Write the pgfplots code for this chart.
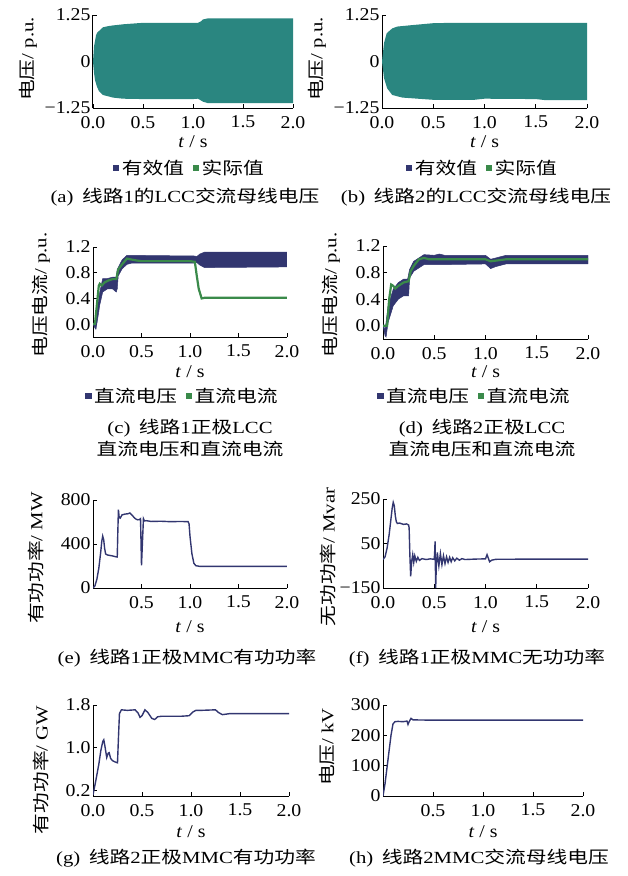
\documentclass[border=0pt]{standalone}
\usepackage{fontspec}
\setmainfont{Liberation Serif}[FakeStretch=1.22]
\newfontfamily\cjk{Noto Sans CJK SC}[FakeStretch=1.22]
\newfontfamily\tickfont{Liberation Serif}[FakeStretch=1.1]
\usepackage{pgfplots}
\pgfplotsset{compat=1.18}
\definecolor{navyc}{RGB}{50,54,112}
\definecolor{greenc}{RGB}{58,138,74}
\definecolor{tealc}{RGB}{42,134,128}
\newcommand\zh[1]{{\cjk #1}}
\newcommand\ft{\tickfont\fontsize{18}{21}\selectfont}
\newcommand\fc{\fontsize{17}{20}\selectfont}
\pgfplotsset{
  panel/.style={scale only axis, axis lines*=left,
    axis line style={line width=1pt, black},
    every tick/.style={black, line width=0.8pt},
    tick align=inside, major tick length=4pt,
    xmin=0, xmax=2, xtick={0,0.5,1,1.5,2}, xticklabels={0.0,0.5,1.0,1.5,2.0},
    tick label style={font=\ft},
    xticklabel style={yshift=-4.5pt},
    yticklabel style={xshift=1pt},
    /pgf/number format/assume math mode=true,
    xlabel={\textit{t} / s}, xlabel style={font=\ft, anchor=center},
    ylabel style={font=\fc, anchor=center},
    legend style={draw=none, fill=none, font=\fc, legend columns=2, anchor=center,
      nodes={inner xsep=3pt},
      /tikz/every even column/.append style={column sep=6pt}},
    legend image code/.code={\fill[##1] (1pt,-2.6pt) rectangle (6.2pt,2.6pt);},
  },
  line/.style={navyc, line width=1.4pt, forget plot},
}
\begin{document}
\begin{tikzpicture}
\path[use as bounding box] (0pt,0pt) rectangle (627pt,-876pt);

% (a)
\begin{axis}[panel, at={(93pt,-108pt)}, anchor=south west, width=200pt, height=93pt,
  ymin=-1.25, ymax=1.25, ytick={-1.25,0,1.25}, yticklabels={−1.25,0,1.25},
  ylabel={\zh{电压}/ p.u.}, ylabel style={at={(axis description cs:-0.325,0.527)}},
  xlabel style={at={(axis description cs:0.5,-0.366)}},
  legend style={at={(axis description cs:0.485,-0.645)}}]
\addlegendimage{navyc}\addlegendentry{\zh{有效值}}
\addlegendimage{greenc}\addlegendentry{\zh{实际值}}
\addplot[fill=tealc, draw=none, forget plot] coordinates {(0,0) (0.01,0.4) (0.03,0.7) (0.04,0.77) (0.06,0.82) (0.1,0.92) (0.15,0.95) (0.2,0.97) (0.3,1.0) (0.4,1.02) (0.5,1.04) (1.0,1.04) (1.05,1.04) (1.08,1.08) (1.1,1.13) (1.15,1.16) (1.5,1.16) (2.0,1.16)
 (2.0,-1.12) (1.5,-1.12) (1.15,-1.12) (1.1,-1.08) (1.05,-1.0) (1.0,-1.01) (0.5,-1.01) (0.3,-1.0) (0.2,-0.97) (0.1,-0.9) (0.06,-0.8) (0.04,-0.68) (0.02,-0.5) (0.01,-0.3) (0,0)};
\end{axis}

% (b)
\begin{axis}[panel, at={(382pt,-108pt)}, anchor=south west, width=205pt, height=93pt,
  ymin=-1.25, ymax=1.25, ytick={-1.25,0,1.25}, yticklabels={−1.25,0,1.25},
  ylabel={\zh{电压}/ p.u.}, ylabel style={at={(axis description cs:-0.317,0.527)}},
  xlabel style={at={(axis description cs:0.5,-0.366)}},
  legend style={at={(axis description cs:0.493,-0.645)}}]
\addlegendimage{navyc}\addlegendentry{\zh{有效值}}
\addlegendimage{greenc}\addlegendentry{\zh{实际值}}
\addplot[fill=tealc, draw=none, forget plot] coordinates {(0,0) (0.02,0.5) (0.046,0.76) (0.1,0.89) (0.15,0.94) (0.3,0.98) (0.5,1.03) (0.7,1.04) (2.0,1.04)
 (2.0,-1.04) (1.6,-1.04) (1.5,-1.01) (1.0,-1.0) (0.9,-1.03) (0.5,-1.03) (0.3,-0.99) (0.2,-0.97) (0.1,-0.9) (0.05,-0.72) (0.02,-0.45) (0,0)};
\end{axis}

% (c)
\begin{axis}[panel, at={(93pt,-337pt)}, anchor=south west, width=194pt, height=90pt,
  ymin=-0.2, ymax=1.2, ytick={0,0.4,0.8,1.2}, yticklabels={0.0,0.4,0.8,1.2},
  ylabel={\zh{电压电流}/ p.u.}, ylabel style={at={(axis description cs:-0.268,0.467)}},
  xlabel style={at={(axis description cs:0.5,-0.383)}},
  legend style={at={(axis description cs:0.464,-0.656)}}]
\addlegendimage{navyc}\addlegendentry{\zh{直流电压}}
\addlegendimage{greenc}\addlegendentry{\zh{直流电流}}
\addplot[fill=navyc, draw=navyc, line width=0.5pt, forget plot] coordinates {(0,0.02) (0.02,0.0) (0.03,0.05) (0.05,0.3) (0.07,0.5) (0.1,0.71) (0.15,0.71) (0.2,0.73) (0.24,0.73) (0.25,0.85) (0.3,1.0) (0.35,1.07) (0.4,1.07) (1.05,1.06) (1.07,1.05) (1.1,1.09) (1.15,1.12) (2.0,1.12)
 (2.0,0.89) (1.15,0.88) (1.1,0.92) (1.07,0.96) (1.05,0.95) (0.4,0.95) (0.35,0.93) (0.3,0.86) (0.26,0.75) (0.25,0.55) (0.24,0.5) (0.2,0.55) (0.15,0.55) (0.1,0.5) (0.07,0.3) (0.05,0.1) (0.03,-0.08) (0.02,-0.06) (0,0.0)};
\addplot[greenc, line width=2.2pt, forget plot] coordinates {(0,0) (0.02,0.0) (0.04,0.3) (0.06,0.6) (0.07,0.63) (0.09,0.6) (0.12,0.65) (0.16,0.68) (0.2,0.7) (0.24,0.7) (0.26,0.85) (0.3,0.93) (0.35,1.02) (0.38,1.01) (0.45,0.99) (0.5,0.98) (1.0,0.98) (1.05,0.97) (1.07,0.75) (1.09,0.55) (1.12,0.4) (1.15,0.41) (2.0,0.41)};
\end{axis}

% (d)
\begin{axis}[panel, at={(383pt,-339pt)}, anchor=south west, width=205pt, height=93pt,
  ymin=-0.2, ymax=1.2, ytick={0,0.4,0.8,1.2}, yticklabels={0.0,0.4,0.8,1.2},
  ylabel={\zh{电压电流}/ p.u.}, ylabel style={at={(axis description cs:-0.254,0.473)}},
  xlabel style={at={(axis description cs:0.5,-0.349)}},
  legend style={at={(axis description cs:0.449,-0.613)}}]
\addlegendimage{navyc}\addlegendentry{\zh{直流电压}}
\addlegendimage{greenc}\addlegendentry{\zh{直流电流}}
\addplot[fill=navyc, draw=navyc, line width=0.5pt, forget plot] coordinates {(0,0) (0.02,-0.05) (0.03,0.05) (0.05,0.3) (0.1,0.55) (0.15,0.65) (0.2,0.7) (0.24,0.7) (0.26,0.85) (0.3,0.97) (0.4,1.07) (0.5,1.06) (0.55,1.08) (0.6,1.06) (1.0,1.06) (1.05,1.0) (1.1,1.02) (1.2,1.06) (2.0,1.06)
 (2.0,0.93) (1.2,0.93) (1.1,0.89) (1.05,0.86) (1.0,0.93) (0.6,0.92) (0.5,0.92) (0.4,0.92) (0.3,0.82) (0.26,0.72) (0.25,0.45) (0.2,0.45) (0.15,0.4) (0.1,0.3) (0.05,0.05) (0.03,-0.17) (0.02,-0.15) (0,0)};
\addplot[greenc, line width=2.2pt, forget plot] coordinates {(0,0) (0.04,0.0) (0.06,0.4) (0.08,0.62) (0.1,0.6) (0.12,0.56) (0.15,0.6) (0.2,0.65) (0.25,0.67) (0.27,0.82) (0.3,0.9) (0.35,1.0) (0.4,1.02) (0.45,1.0) (0.55,1.0) (1.0,1.0) (1.05,0.97) (1.1,0.98) (1.2,1.0) (2.0,1.0)};
\end{axis}

% (e)
\begin{axis}[panel, at={(93pt,-588pt)}, anchor=south west, width=194pt, height=88pt,
  ymin=0, ymax=800, ytick={0,400,800}, yticklabels={0,400,800}, xticklabels={,0.5,1.0,1.5,2.0},
  ylabel={\zh{有功功率}/ MW}, ylabel style={at={(axis description cs:-0.294,0.341)}},
  xlabel style={at={(axis description cs:0.5,-0.443)}}]
\addplot[line] coordinates {(0,0) (0.02,20) (0.04,80) (0.06,180) (0.08,330) (0.09,420) (0.1,472) (0.11,440) (0.12,360) (0.13,310) (0.15,300) (0.2,292) (0.24,283) (0.25,282) (0.255,480) (0.262,712) (0.27,640) (0.28,635) (0.3,665) (0.33,672) (0.36,675) (0.38,682) (0.4,665) (0.42,645) (0.44,628) (0.46,620) (0.48,622) (0.49,630) (0.495,420) (0.5,205) (0.51,420) (0.52,630) (0.53,610) (0.55,612) (0.6,605) (0.7,607) (0.8,603) (0.9,605) (0.98,603) (0.99,585) (1.0,470) (1.02,310) (1.04,225) (1.06,203) (1.1,197) (1.5,197) (2.0,197)};
\end{axis}

% (f)
\begin{axis}[panel, at={(383pt,-588pt)}, anchor=south west, width=205pt, height=89pt,
  ymin=-150, ymax=250, ytick={-150,50,250}, yticklabels={−150,50,250},
  ylabel={\zh{无功功率}/ Mvar}, ylabel style={at={(axis description cs:-0.268,0.348)}},
  xlabel style={at={(axis description cs:0.5,-0.438)}}]
\addplot[line] coordinates {(0,-22) (0.02,-10) (0.04,30) (0.06,90) (0.08,170) (0.09,210) (0.1,235) (0.11,220) (0.12,175) (0.13,148) (0.14,140) (0.16,142) (0.2,136) (0.23,138) (0.25,133) (0.255,120) (0.262,0) (0.27,-98) (0.28,-30) (0.29,0) (0.3,-35) (0.31,-5) (0.325,-30) (0.34,-12) (0.355,-26) (0.38,-18) (0.42,-22) (0.46,-19) (0.5,-21) (0.505,20) (0.508,59) (0.511,-50) (0.514,-150) (0.52,-50) (0.53,10) (0.545,-50) (0.56,5) (0.575,-45) (0.59,-5) (0.605,-40) (0.62,-10) (0.635,-35) (0.65,-12) (0.665,-32) (0.68,-14) (0.7,-28) (0.72,-16) (0.745,-25) (0.77,-18) (0.8,-22) (0.9,-20) (1.0,-19) (1.015,0) (1.04,-32) (1.06,-25) (1.1,-21) (1.5,-20) (2.0,-20)};
\end{axis}

% (g)
\begin{axis}[panel, at={(93pt,-796pt)}, anchor=south west, width=196pt, height=91pt,
  ymin=0.1, ymax=1.8, ytick={0.2,1.0,1.8}, yticklabels={0.2,1.0,1.8},
  ylabel={\zh{有功功率}/ GW}, ylabel style={at={(axis description cs:-0.265,0.286)}},
  xlabel style={at={(axis description cs:0.5,-0.396)}}]
\addplot[line] coordinates {(0,0.12) (0.03,0.4) (0.06,0.7) (0.08,0.95) (0.1,1.12) (0.11,1.15) (0.12,1.05) (0.14,0.82) (0.155,0.9) (0.165,0.91) (0.18,0.8) (0.2,0.76) (0.22,0.74) (0.25,0.72) (0.26,1.2) (0.27,1.64) (0.29,1.71) (0.35,1.7) (0.43,1.71) (0.46,1.65) (0.48,1.57) (0.5,1.6) (0.53,1.71) (0.56,1.66) (0.6,1.55) (0.63,1.53) (0.66,1.58) (0.7,1.59) (0.9,1.59) (0.98,1.6) (1.02,1.67) (1.05,1.7) (1.1,1.7) (1.25,1.71) (1.28,1.66) (1.32,1.62) (1.4,1.64) (2.0,1.64)};
\end{axis}

% (h)
\begin{axis}[panel, at={(383pt,-796pt)}, anchor=south west, width=200pt, height=91pt,
  ymin=0, ymax=300, ytick={0,100,200,300}, yticklabels={0,100,200,300}, xticklabels={,0.5,1.0,1.5,2.0},
  ylabel={\zh{电压}/ kV}, ylabel style={at={(axis description cs:-0.28,0.538)}},
  xlabel style={at={(axis description cs:0.5,-0.396)}}]
\addplot[line] coordinates {(0,0) (0.02,40) (0.05,120) (0.08,200) (0.1,238) (0.12,245) (0.15,246) (0.2,245) (0.24,247) (0.25,236) (0.26,244) (0.28,256) (0.3,251) (0.5,250) (1,250) (1.5,250) (2,250)};
\end{axis}

% captions
\node[font=\fc] at (185pt,-197pt) {(a)\hspace{0.5em}\zh{线路}1\zh{的}LCC\zh{交流母线电压}};
\node[font=\fc] at (476pt,-197pt) {(b)\hspace{0.5em}\zh{线路}2\zh{的}LCC\zh{交流母线电压}};
\node[font=\fc, align=center] at (190pt,-438pt) {(c)\hspace{0.5em}\zh{线路}1\zh{正极}LCC\\[2pt]\zh{直流电压和直流电流}};
\node[font=\fc, align=center] at (482pt,-438pt) {(d)\hspace{0.5em}\zh{线路}2\zh{正极}LCC\\[2pt]\zh{直流电压和直流电流}};
\node[font=\fc] at (187pt,-658pt) {(e)\hspace{0.5em}\zh{线路}1\zh{正极}MMC\zh{有功功率}};
\node[font=\fc] at (477pt,-658pt) {(f)\hspace{0.5em}\zh{线路}1\zh{正极}MMC\zh{无功功率}};
\node[font=\fc] at (186pt,-858pt) {(g)\hspace{0.5em}\zh{线路}2\zh{正极}MMC\zh{有功功率}};
\node[font=\fc] at (479pt,-858pt) {(h)\hspace{0.5em}\zh{线路}2MMC\zh{交流母线电压}};
\end{tikzpicture}
\end{document}
